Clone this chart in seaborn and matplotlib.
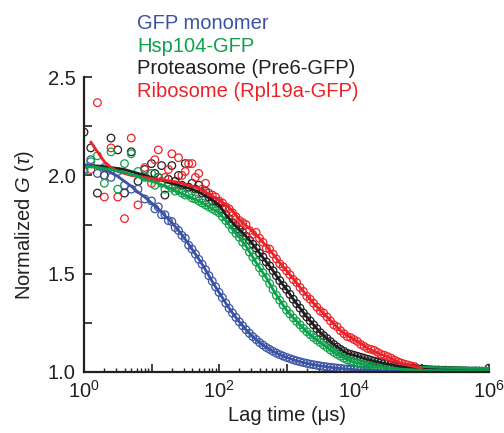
import numpy as np
import pandas as pd
import matplotlib
matplotlib.use('Agg')
import matplotlib.pyplot as plt
import seaborn as sns

sns.set_style('ticks')
plt.rcParams['font.family'] = ['Liberation Sans', 'DejaVu Sans']
plt.rcParams['mathtext.fontset'] = 'custom'
plt.rcParams['mathtext.rm'] = 'Liberation Sans'
plt.rcParams['mathtext.it'] = 'Liberation Sans:italic'

# lag times (us) of the measured points: sparse at short lags, denser after 10 us
lag_pts = [1, 1.26, 1.58, 2.0, 2.51, 3.16, 3.98, 5.01, 6.31, 7.94, 10,
           11.2, 12.6, 14.1, 15.8, 17.8, 20.0, 22.4, 25.1, 28.2, 31.6,
           35.5, 39.8, 44.7, 50.1, 56.2, 63.1, 70.8, 79.4, 89.1, 100,
           112, 126, 141, 158, 178, 200, 224, 251, 282, 316,
           355, 398, 447, 501, 562, 631, 708, 794, 891, 1000,
           1122, 1259, 1413, 1585, 1778, 1995, 2239, 2512, 2818, 3162,
           3548, 3981, 4467, 5012, 5623, 6310, 7079, 7943, 8913, 1e4,
           11220, 12590, 14130, 15850, 17780, 19950, 22390, 25120, 28180, 31620,
           35480, 39810, 44670, 50120, 56230, 63100, 70790, 79430, 89130, 1e5,
           112200, 125900, 141300, 158500, 177800, 199500, 223900, 251200, 281800, 316200,
           354800, 398100, 446700, 501200, 562300, 631000, 707900, 794300, 891300, 1e6]

# measured G(tau), normalised
gfp_pts = [2.03, 2.08, 2.01, 2.04, 1.99, 2.02, 1.95, 1.93, 1.93, 1.88, 1.87,
           1.83, 1.84, 1.80, 1.80, 1.77, 1.765, 1.735, 1.72, 1.695, 1.68,
           1.645, 1.625, 1.60, 1.573, 1.548, 1.52, 1.49, 1.462, 1.433, 1.405,
           1.378, 1.35, 1.324, 1.30, 1.277, 1.255, 1.235, 1.215, 1.197, 1.18,
           1.165, 1.15, 1.137, 1.125, 1.115, 1.105, 1.096, 1.088, 1.081, 1.074,
           1.068, 1.062, 1.057, 1.052, 1.048, 1.044, 1.04, 1.037, 1.034, 1.031,
           1.028, 1.026, 1.024, 1.022, 1.02, 1.018, 1.016, 1.015, 1.013, 1.012,
           1.011, 1.01, 1.009, 1.008, 1.008, 1.007, 1.006, 1.006, 1.005, 1.005,
           1.004, 1.004, 1.004, 1.003, 1.003, 1.003, 1.002, 1.002, 1.002, 1.002,
           1.002, 1.001, 1.002, 1.001, 1.001, 1.002, 1.001, 1.0, 1.001, 1.0,
           1.001, 1.0, 1.0, 1.001, 1.0, 1.0, 1.0, 1.0, 1.0, 1.0]
hsp_pts = [2.02, 2.07, 2.10, 1.96, 2.12, 1.93, 2.06, 2.11, 2.02, 1.99, 2.01,
           1.95, 1.99, 1.96, 1.93, 1.95, 1.935, 1.92, 1.925, 1.91, 1.90,
           1.90, 1.885, 1.88, 1.87, 1.86, 1.85, 1.84, 1.83, 1.82, 1.81,
           1.79, 1.77, 1.75, 1.725, 1.705, 1.685, 1.66, 1.64, 1.61, 1.585,
           1.56, 1.53, 1.505, 1.48, 1.45, 1.42, 1.39, 1.365, 1.34, 1.315,
           1.295, 1.275, 1.257, 1.24, 1.222, 1.205, 1.19, 1.175, 1.162, 1.15,
           1.137, 1.125, 1.112, 1.10, 1.09, 1.08, 1.07, 1.062, 1.056, 1.05,
           1.046, 1.042, 1.038, 1.034, 1.032, 1.03, 1.027, 1.025, 1.022, 1.02,
           1.018, 1.017, 1.015, 1.014, 1.013, 1.012, 1.011, 1.01, 1.01, 1.009,
           1.009, 1.008, 1.008, 1.007, 1.007, 1.007, 1.006, 1.006, 1.006, 1.006,
           1.005, 1.006, 1.005, 1.005, 1.004, 1.005, 1.004, 1.004, 1.004, 1.004]
pre6_pts = [2.22, 2.14, 1.91, 2.0, 2.19, 2.13, 1.91, 2.12, 1.97, 2.03, 2.06,
            2.01, 1.99, 2.05, 1.90, 1.98, 2.05, 1.97, 2.0, 1.95, 2.06,
            1.94, 1.96, 1.93, 1.95, 1.91, 1.92, 1.89, 1.87, 1.87, 1.86,
            1.83, 1.80, 1.78, 1.76, 1.745, 1.725, 1.71, 1.69, 1.67, 1.65,
            1.63, 1.605, 1.585, 1.56, 1.54, 1.515, 1.49, 1.465, 1.44, 1.42,
            1.395, 1.37, 1.347, 1.325, 1.30, 1.28, 1.26, 1.24, 1.22, 1.20,
            1.185, 1.17, 1.155, 1.14, 1.127, 1.115, 1.105, 1.095, 1.09, 1.085,
            1.08, 1.075, 1.07, 1.065, 1.06, 1.055, 1.051, 1.048, 1.044, 1.04,
            1.036, 1.033, 1.03, 1.027, 1.024, 1.022, 1.02, 1.018, 1.016, 1.015,
            1.013, 1.012, 1.011, 1.01, 1.01, 1.009, 1.009, 1.008, 1.008, 1.007,
            1.007, 1.006, 1.006, 1.005, 1.005, 1.005, 1.005, 1.004, 1.004, 1.02]
rpl_pts = [None, 2.03, 2.37, 1.89, 2.14, 1.89, 1.78, 2.19, 1.85, 2.04, 1.96,
           2.08, 2.13, 1.97, 1.99, 2.03, 2.11, 1.95, 2.09, 2.0, 2.02,
           2.06, 2.06, 1.99, 2.01, 1.93, 1.96, 1.91, 1.90, 1.89, 1.87,
           1.86, 1.84, 1.83, 1.81, 1.79, 1.77, 1.76, 1.75, 1.72, 1.70,
           1.71, 1.68, 1.66, 1.63, 1.625, 1.60, 1.575, 1.55, 1.535, 1.515,
           1.495, 1.47, 1.455, 1.43, 1.41, 1.385, 1.37, 1.35, 1.33, 1.31,
           1.30, 1.28, 1.26, 1.24, 1.23, 1.21, 1.195, 1.18, 1.175, 1.165,
           1.155, 1.14, 1.13, 1.12, 1.115, 1.11, 1.10, 1.09, 1.085, 1.078,
           1.07, 1.06, 1.052, 1.045, 1.04, 1.035, 1.03, 1.027, None, None,
           None, None, None, None, None, None, None, None, None, None,
           None, None, None, None, None, None, None, None, None, None]

# fitted curves, 10 points per decade
lag_fit = [1, 1.26, 1.58, 2.0, 2.51, 3.16, 3.98, 5.01, 6.31, 7.94,
           10, 12.6, 15.8, 20.0, 25.1, 31.6, 39.8, 50.1, 63.1, 79.4,
           100, 126, 158, 200, 251, 316, 398, 501, 631, 794,
           1000, 1259, 1585, 1995, 2512, 3162, 3981, 5012, 6310, 7943,
           1e4, 1.26e4, 1.58e4, 2.0e4, 2.51e4, 3.16e4, 3.98e4, 5.01e4, 6.31e4, 7.94e4,
           1e5, 1.26e5, 1.58e5, 2.0e5, 2.51e5, 3.16e5, 3.98e5, 5.01e5, 6.31e5, 7.94e5, 1e6]
gfp_fit = [2.055, 2.05, 2.04, 2.03, 2.015, 1.995, 1.97, 1.945, 1.915, 1.89,
           1.86, 1.83, 1.795, 1.76, 1.72, 1.675, 1.625, 1.575, 1.52, 1.46,
           1.405, 1.35, 1.30, 1.255, 1.215, 1.18, 1.15, 1.125, 1.105, 1.088,
           1.074, 1.062, 1.052, 1.044, 1.037, 1.031, 1.026, 1.022, 1.018, 1.015,
           1.012, 1.01, 1.008, 1.007, 1.006, 1.005, 1.004, 1.003, 1.003, 1.002,
           1.002, 1.002, 1.001, 1.001, 1.001, 1.001, 1.0, 1.0, 1.0, 1.0, 1.0]
hsp_fit = [2.045, 2.043, 2.04, 2.035, 2.03, 2.022, 2.015, 2.005, 1.995, 1.98,
           1.97, 1.96, 1.945, 1.93, 1.915, 1.90, 1.885, 1.87, 1.85, 1.83,
           1.81, 1.77, 1.725, 1.685, 1.64, 1.585, 1.53, 1.48, 1.42, 1.365,
           1.315, 1.275, 1.24, 1.205, 1.175, 1.15, 1.125, 1.10, 1.08, 1.062,
           1.05, 1.042, 1.034, 1.03, 1.025, 1.02, 1.017, 1.014, 1.012, 1.01,
           1.009, 1.008, 1.007, 1.007, 1.006, 1.006, 1.005, 1.005, 1.004, 1.004, 1.004]
pre6_fit = [2.05, 2.05, 2.048, 2.045, 2.04, 2.035, 2.03, 2.02, 2.01, 2.0,
            1.99, 1.98, 1.97, 1.96, 1.95, 1.94, 1.93, 1.915, 1.895, 1.875,
            1.85, 1.80, 1.76, 1.725, 1.69, 1.65, 1.605, 1.56, 1.515, 1.465,
            1.42, 1.37, 1.325, 1.28, 1.24, 1.20, 1.17, 1.14, 1.115, 1.095,
            1.085, 1.075, 1.065, 1.055, 1.048, 1.04, 1.033, 1.027, 1.022, 1.018,
            1.015, 1.012, 1.01, 1.009, 1.008, 1.007, 1.006, 1.005, 1.005, 1.004, 1.004]
rpl_fit = [None, 2.17, 2.12, 2.07, 2.04, 2.02, 2.01, 2.0, 1.995, 1.99,
           1.985, 1.98, 1.975, 1.97, 1.965, 1.955, 1.945, 1.935, 1.915, 1.895,
           1.875, 1.85, 1.82, 1.775, 1.745, 1.715, 1.68, 1.64, 1.60, 1.555,
           1.515, 1.475, 1.43, 1.39, 1.35, 1.315, 1.28, 1.245, 1.21, 1.185,
           1.165, 1.145, 1.12, 1.105, 1.09, 1.078, 1.06, 1.045, 1.035, 1.027,
           1.02, None, None, None, None, None, None, None, None, None, None]

names = ['GFP monomer', 'Hsp104-GFP', 'Proteasome (Pre6-GFP)', 'Ribosome (Rpl19a-GFP)']
colors = ['#3a53a4', '#0ea14b', '#231f20', '#ec2229']
pts = [gfp_pts, hsp_pts, pre6_pts, rpl_pts]
fits = [gfp_fit, hsp_fit, pre6_fit, rpl_fit]

x_ticks = [1, 10, 100, 1e3, 1e4, 1e5, 1e6]
x_labels = ['$10^{0}$', '', '$10^{2}$', '', '$10^{4}$', '', '$10^{6}$']
y_ticks = [1.0, 1.5, 2.0, 2.5]

fig = plt.figure(figsize=(5.04, 4.33), dpi=100)
ax = fig.add_axes([0.1667, 0.1409, 0.8036, 0.681])

# draw order: proteasome, ribosome, GFP, Hsp104
for i in [2, 3, 0, 1]:
    d_pts = pd.DataFrame({'lag': lag_pts, 'g': pd.to_numeric(pd.Series(pts[i]), errors='coerce')})
    d_fit = pd.DataFrame({'lag': lag_fit, 'g': pd.to_numeric(pd.Series(fits[i]), errors='coerce')})
    sns.scatterplot(data=d_pts.dropna(), x='lag', y='g', ax=ax, marker='o', s=30,
                    facecolor='none', edgecolor=colors[i], linewidth=0.9)
    sns.lineplot(data=d_fit.dropna(), x='lag', y='g', ax=ax,
                 color=colors[i], linewidth=2.0, estimator=None)

ax.set_xscale('log')
ax.set_xlim(1, 1e6)
ax.set_ylim(1.0, 2.5)
ax.set_xticks(x_ticks, labels=x_labels)
ax.xaxis.set_minor_locator(matplotlib.ticker.LogLocator(base=10, subs=np.arange(2, 10)))
ax.xaxis.set_minor_formatter(matplotlib.ticker.NullFormatter())
ax.set_yticks(y_ticks, labels=['1.0', '1.5', '2.0', '2.5'])
ax.set_yticks([1.25, 1.75, 2.25], minor=True)

sns.despine(ax=ax)
for s in ['left', 'bottom']:
    ax.spines[s].set_linewidth(1.6)
    ax.spines[s].set_color('#231f20')
ax.tick_params(axis='both', which='major', direction='in', length=5.5, width=1.2,
               labelsize=14.5, colors='#231f20', pad=6)
ax.tick_params(axis='y', which='minor', direction='in', length=5.5, width=1.2, colors='#231f20')
ax.tick_params(axis='x', which='minor', direction='in', length=3, width=1.0, colors='#231f20')

ax.set_xlabel('Lag time (\u03bcs)', fontsize=14.5, color='#231f20', labelpad=3)
ax.set_ylabel('Normalized $G$ ($\\tau$)', fontsize=14.5, color='#231f20', labelpad=8.5)

text_y = [0.932, 0.881, 0.829, 0.777]
for name, c, ty in zip(names, colors, text_y):
    fig.text(0.272, ty, name, color=c, fontsize=14.5, va='baseline', ha='left')

fig.savefig('out.png', dpi=100)
